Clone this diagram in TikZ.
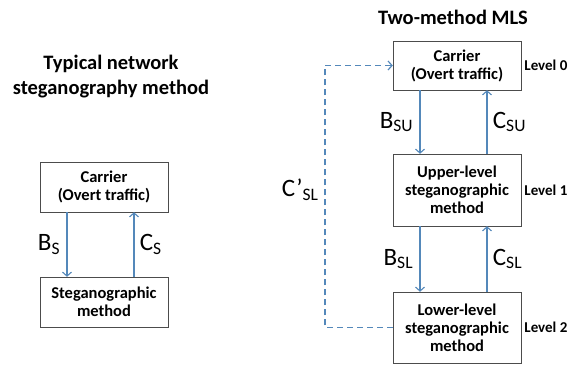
\documentclass[tikz,border=0pt]{standalone}
\usepackage{fontspec}
\setmainfont{Carlito}
\usetikzlibrary{positioning,arrows.meta}
\definecolor{linkblue}{RGB}{84,136,186}

\tikzstyle{box}=[draw=black!70,thin,minimum width=128pt,inner sep=0pt,align=center,font=\fontsize{16.5}{18}\selectfont\bfseries]
\tikzstyle{link}=[draw=linkblue,line width=1.1pt,-{Straight Barb[length=4pt,width=9pt]}]
\tikzstyle{weight}=[font=\fontsize{25}{25}\selectfont]
\tikzstyle{level}=[font=\fontsize{15}{16}\selectfont\bfseries,inner sep=1pt]
\tikzstyle{title}=[font=\fontsize{20.5}{25}\selectfont\bfseries,align=center]

\begin{document}
\begin{tikzpicture}[x=1pt,y=-1pt]
\useasboundingbox (0,0) rectangle (569,365);
% titles
\node[title] (tleft) at (111,77) {Typical network\\steganography method};
\node[title] (tright) at (453,17) {Two-method MLS};
% single method
\node[box,minimum height=50pt] (carrier) at (104,187) {Carrier\\(Overt traffic)};
\node[box,minimum height=50pt] (stego) at (104,302) {Steganographic\\method};
% two-method MLS
\foreach \pos/\name/\h/\txt in {{(457,65.5)/carrierml/49/Carrier\\(Overt traffic)}, {(457,190)/upper/72/Upper-level\\steganographic\\method}, {(457,327.5)/lower/71/Lower-level\\steganographic\\method}}
\node[box,minimum height=\h pt] (\name) at \pos {\txt};
\foreach \name/\lvl in {carrierml/0, upper/1, lower/2}
\node[level,right=2pt of \name] (lvl\lvl) {Level \lvl};
% channels
\foreach \source/\dest/\wb/\wc in {carrier/stego/S/S, carrierml/upper/SU/SU, upper/lower/SL/SL} {
\draw[link] ([xshift=-37pt]\source.south) -- node[weight,left=3pt] {B$_{\mathrm{\wb}}$} ([xshift=-37pt]\dest.north);
\draw[link] ([xshift=30pt]\dest.north) -- node[weight,right=2pt] {C$_{\mathrm{\wc}}$} ([xshift=30pt]\source.south);
}
% covert channel around
\coordinate (loop) at (325,190);
\draw[link,line width=1.2pt,dash pattern=on 6pt off 4pt] (lower.west) -| (loop) |- (carrierml.west);
\node[weight,left=3pt of loop] (cprime) {C’$_{\mathrm{SL}}$};
\end{tikzpicture}
\end{document}
